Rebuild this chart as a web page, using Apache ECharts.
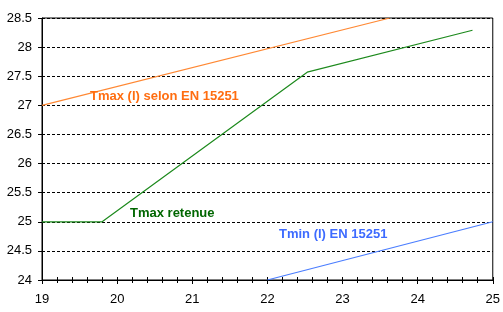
<!DOCTYPE html>
<html><head><meta charset="utf-8">
<script src="https://cdn.jsdelivr.net/npm/echarts@6/dist/echarts.min.js"></script>
<style>html,body{margin:0;padding:0;background:#fff}#c{width:503px;height:312px}</style>
</head><body><div id="c"></div>
<script>
const xTicks = [19, 20, 21, 22, 23, 24, 25];
const yTicks = [24, 24.5, 25, 25.5, 26, 26.5, 27, 27.5, 28, 28.5];
const tmaxEN = [[19, 27.0], [23.63, 28.5]];
const tmaxRetenue = [[19, 25.0], [19.8, 25.0], [22.53, 27.57], [24.73, 28.29]];
const tminEN = [[22, 24.0], [25, 25.0]];
const labels = ["Tmax (l) selon EN 15251", "Tmax retenue", "Tmin (l) EN 15251"];

const chart = echarts.init(document.getElementById('c'), null, {renderer: 'canvas'});
const font = 'Liberation Sans, Arial, sans-serif';
const axBase = {
  type: 'value', min: xTicks[0], max: xTicks[xTicks.length - 1], interval: 1,
  axisLine: {show: true, lineStyle: {color: '#000', width: 1}},
  splitLine: {show: false}
};
chart.setOption({
  animation: false,
  backgroundColor: '#fff',
  grid: {left: 42, right: 9, top: 18, bottom: 32, show: true, borderColor: '#000', borderWidth: 1, backgroundColor: 'transparent'},
  xAxis: [
    Object.assign({}, axBase, {
      position: 'bottom',
      axisTick: {show: true, inside: false, length: 4, lineStyle: {color: '#000'}},
      minorTick: {show: true, splitNumber: 5, length: 3, lineStyle: {color: '#000'}},
      axisLabel: {color: '#000', fontSize: 13, fontFamily: font, margin: 13}
    }),
    Object.assign({}, axBase, {
      position: 'bottom',
      axisTick: {show: true, inside: true, length: 3, lineStyle: {color: '#000'}},
      minorTick: {show: true, splitNumber: 5, length: 3, lineStyle: {color: '#000'}},
      axisLabel: {show: false}
    })
  ],
  yAxis: {
    type: 'value', position: 'left', min: yTicks[0], max: yTicks[yTicks.length - 1], interval: 0.5,
    axisLine: {show: true, lineStyle: {color: '#000', width: 1}},
    axisTick: {show: true, length: 4, lineStyle: {color: '#000'}},
    axisLabel: {color: '#000', fontSize: 13, fontFamily: font, margin: 10},
    splitLine: {show: true, lineStyle: {color: '#000', width: 1, type: [3, 2]}}
  },
  series: [
    {type: 'line', data: tmaxEN, showSymbol: false, clip: true, lineStyle: {color: '#ff8833', width: 1.2}, z: 3},
    {type: 'line', data: tmaxRetenue, showSymbol: false, clip: true, lineStyle: {color: '#1d8a1d', width: 1.2}, z: 3},
    {type: 'line', data: tminEN, showSymbol: false, clip: true, lineStyle: {color: '#4a7dff', width: 1.2}, z: 3}
  ],
  graphic: [
    {type: 'text', left: 90, top: 90, z: 10, style: {text: labels[0], fill: '#ff6d10', font: 'bold 13px ' + font}},
    {type: 'text', left: 130, top: 207, z: 10, style: {text: labels[1], fill: '#006600', font: 'bold 13px ' + font}},
    {type: 'text', left: 279, top: 228, z: 10, style: {text: labels[2], fill: '#3d6bff', font: 'bold 13px ' + font}}
  ]
});
</script></body></html>
